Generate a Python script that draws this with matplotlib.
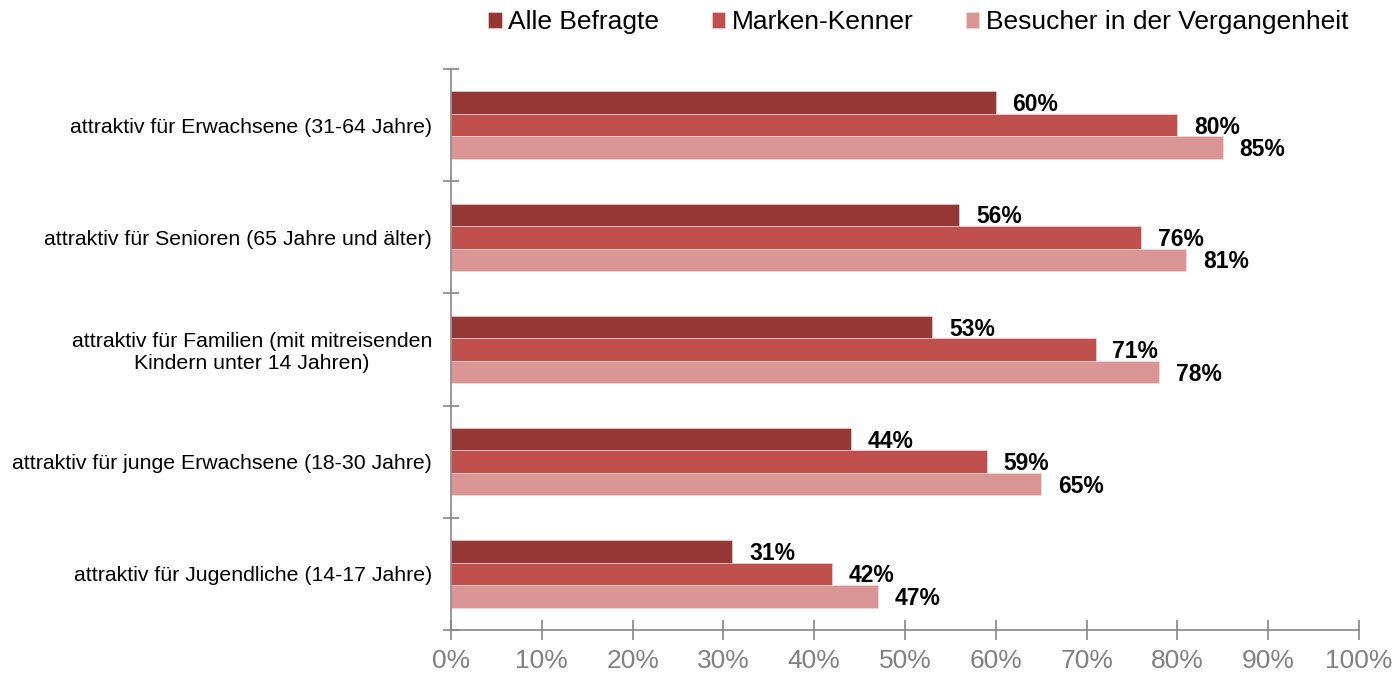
import matplotlib.pyplot as plt
import numpy as np

plt.rcParams['font.family'] = ['Liberation Sans', 'DejaVu Sans']

categories = [
    "attraktiv für Erwachsene (31-64 Jahre)",
    "attraktiv für Senioren (65 Jahre und älter)",
    "attraktiv für Familien (mit mitreisenden\nKindern unter 14 Jahren)",
    "attraktiv für junge Erwachsene (18-30 Jahre)",
    "attraktiv für Jugendliche (14-17 Jahre)",
]
series_names = ["Alle Befragte", "Marken-Kenner", "Besucher in der Vergangenheit"]
alle_befragte = [60, 56, 53, 44, 31]
marken_kenner = [80, 76, 71, 59, 42]
besucher = [85, 81, 78, 65, 47]
x_ticks = [0, 10, 20, 30, 40, 50, 60, 70, 80, 90, 100]

colors = ["#953735", "#C0504D", "#D99694"]
axis_gray = "#868686"

fig = plt.figure(figsize=(13.95, 6.74), dpi=100)
ax = fig.add_axes([451 / 1395, 44 / 674, 908 / 1395, 561 / 674])

y = np.arange(len(categories))
bar_h = 0.2
offsets = [-bar_h, 0.0, bar_h]
for vals, off, col, name in zip([alle_befragte, marken_kenner, besucher], offsets, colors, series_names):
    bars = ax.barh(y + off, vals, height=bar_h, color=col, label=name,
                   edgecolor="#f2dcdb", linewidth=0.4)
    for b, v in zip(bars, vals):
        ax.annotate(f"{v}%", xy=(v, b.get_y() + b.get_height() / 2),
                    xytext=(12, -1.5), textcoords="offset points",
                    ha="left", va="center", fontsize=16.5, fontweight="bold", color="black")

ax.set_xlim(0, 100)
ax.set_ylim(len(categories) - 0.5, -0.5)

ax.set_xticks(x_ticks)
ax.set_xticklabels([f"{t}%" for t in x_ticks], fontsize=19, color="#808080")
ax.tick_params(axis="x", direction="inout", length=14, width=1.2, color=axis_gray, pad=6.5)

ax.set_yticks(y)
ax.set_yticklabels(categories, fontsize=15.3, ha="right", multialignment="center")
ax.tick_params(axis="y", which="major", length=0, pad=13.5)
ax.set_yticks(np.arange(-0.5, len(categories) + 0.5, 1), minor=True)
ax.tick_params(axis="y", which="minor", direction="inout", length=12, width=1.2, color=axis_gray)

for side in ["top", "right"]:
    ax.spines[side].set_visible(False)
for side in ["left", "bottom"]:
    ax.spines[side].set_color(axis_gray)
    ax.spines[side].set_linewidth(1.2)

fig.legend(loc="upper right", bbox_to_anchor=(1367 / 1395, 1.012), ncol=3, frameon=False,
           fontsize=19, handlelength=0.5, handleheight=0.5, handletextpad=0.25,
           columnspacing=2.0, borderaxespad=0.3)

fig.savefig("out.png", dpi=100)
